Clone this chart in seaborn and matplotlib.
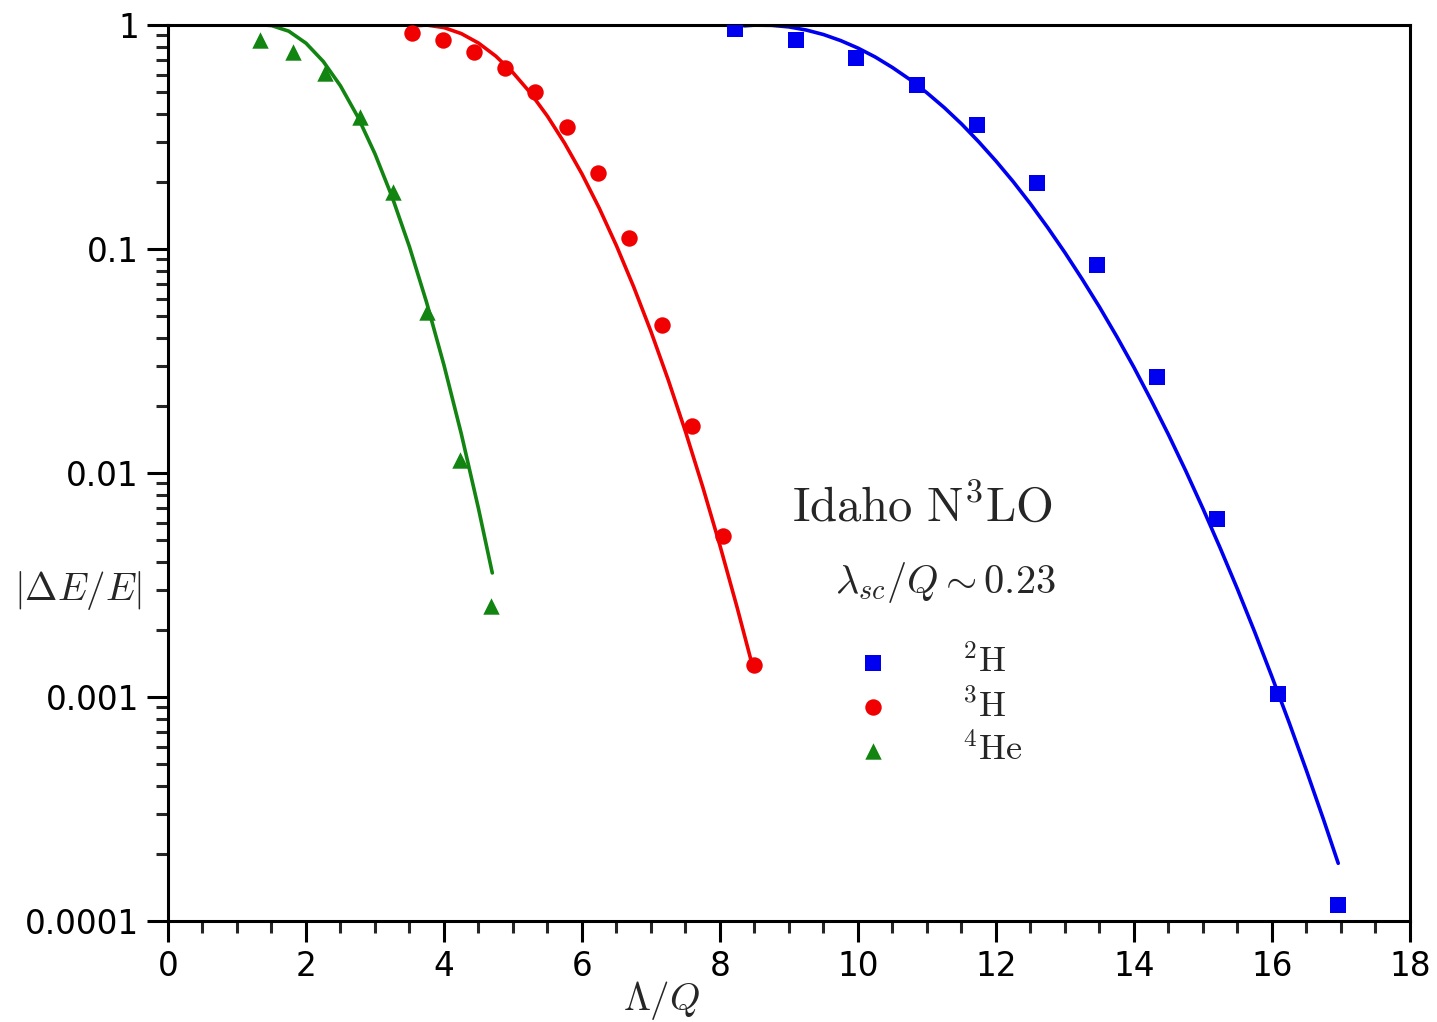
import numpy as np
import pandas as pd
import matplotlib
matplotlib.use('Agg')
import matplotlib.pyplot as plt
from matplotlib.ticker import LogLocator, MultipleLocator, NullFormatter, FixedLocator, FixedFormatter
import seaborn as sns

# puntos calculados (marcadores)
h2_x = [8.22, 9.10, 9.97, 10.86, 11.72, 12.59, 13.46, 14.33, 15.20, 16.09, 16.96]
h2_y = [0.96, 0.857, 0.71, 0.54, 0.358, 0.197, 0.0849, 0.0268, 0.00623, 0.00103, 0.000118]

h3_x = [3.54, 3.99, 4.43, 4.88, 5.32, 5.78, 6.23, 6.68, 7.16, 7.59, 8.04, 8.49]
h3_y = [0.92, 0.857, 0.758, 0.643, 0.502, 0.35, 0.218, 0.112, 0.0458, 0.0162, 0.00523, 0.00139]

he4_x = [1.33, 1.81, 2.28, 2.78, 3.26, 3.75, 4.23, 4.68]
he4_y = [0.857, 0.757, 0.61, 0.388, 0.18, 0.0523, 0.0114, 0.00255]

# curvas de ajuste
h2_curve_x = [8.35, 8.50, 8.75, 9.00, 9.25, 9.50, 9.75, 10.00, 10.25, 10.50, 10.75, 11.00,
              11.25, 11.50, 11.75, 12.00, 12.25, 12.50, 12.75, 13.00, 13.25, 13.50, 13.75,
              14.00, 14.25, 14.50, 14.75, 15.00, 15.25, 15.50, 15.75, 16.00, 16.25, 16.50,
              16.75, 16.96]
h2_curve_y = [0.992, 0.999, 0.997, 0.981, 0.950, 0.907, 0.852, 0.789, 0.720, 0.646, 0.572, 0.498,
              0.428, 0.362, 0.301, 0.247, 0.1998, 0.159, 0.1246, 0.0963, 0.0733, 0.0551, 0.0407,
              0.0296, 0.0211, 0.01483, 0.01023, 0.00693, 0.00462, 0.00303, 0.00195, 0.00123,
              0.000767, 0.000469, 0.000282, 0.000181]

h3_curve_x = [3.50, 3.75, 4.00, 4.25, 4.50, 4.75, 5.00, 5.25, 5.50, 5.75, 6.00, 6.25,
              6.50, 6.75, 7.00, 7.25, 7.50, 7.75, 8.00, 8.25, 8.46]
h3_curve_y = [0.989, 1.0, 0.974, 0.916, 0.831, 0.727, 0.613, 0.499, 0.3915, 0.2962, 0.2163, 0.1523,
              0.1034, 0.0677, 0.0428, 0.02605, 0.01531, 0.00867, 0.00474, 0.0025, 0.00142]

he4_curve_x = [1.40, 1.50, 1.75, 2.00, 2.25, 2.50, 2.75, 3.00, 3.25, 3.50, 3.75, 4.00,
               4.25, 4.50, 4.70]
he4_curve_y = [1.0, 0.995, 0.939, 0.830, 0.688, 0.535, 0.3897, 0.266, 0.1703, 0.1022, 0.0575,
               0.0303, 0.0150, 0.00694, 0.00358]

y_ticks = [1e-4, 1e-3, 1e-2, 1e-1, 1]
y_labels = ['0.0001', '0.001', '0.01', '0.1', '1']
x_ticks = [0, 2, 4, 6, 8, 10, 12, 14, 16, 18]

series = [
    (h2_x, h2_y, h2_curve_x, h2_curve_y, '#0000f0', 's', r'$^{2}\mathrm{H}$'),
    (h3_x, h3_y, h3_curve_x, h3_curve_y, '#f00000', 'o', r'$^{3}\mathrm{H}$'),
    (he4_x, he4_y, he4_curve_x, he4_curve_y, '#128412', '^', r'$^{4}\mathrm{He}$'),
]

sns.set_style('ticks')
plt.rcParams['font.family'] = ['DejaVu Sans']
plt.rcParams['mathtext.fontset'] = 'cm'

fig = plt.figure(figsize=(14.37, 10.22), dpi=100)
ax = fig.add_axes([0.1169, 0.0988, 0.8643, 0.8767])

for px, py, cx, cy, col, mk, lab in series:
    curva = pd.DataFrame({'x': cx, 'y': cy})
    puntos = pd.DataFrame({'x': px, 'y': py})
    sns.lineplot(data=curva, x='x', y='y', color=col, lw=2.6, estimator=None, sort=False, ax=ax)
    sns.scatterplot(data=puntos, x='x', y='y', color=col, marker=mk, s=140, linewidth=0,
                    label=lab, ax=ax, zorder=3)

ax.set_yscale('log')
ax.set_xlim(0, 18)
ax.set_ylim(1e-4, 1)
ax.set_xlabel('')
ax.set_ylabel('')

ax.yaxis.set_major_locator(FixedLocator(y_ticks))
ax.yaxis.set_major_formatter(FixedFormatter(y_labels))
ax.yaxis.set_minor_locator(LogLocator(base=10, subs=np.arange(2, 10)))
ax.yaxis.set_minor_formatter(NullFormatter())
ax.xaxis.set_major_locator(FixedLocator(x_ticks))
ax.xaxis.set_minor_locator(MultipleLocator(0.5))

for s in ax.spines.values():
    s.set_linewidth(2.2)
    s.set_color('black')
ax.tick_params(which='major', direction='out', length=15, width=2.2, labelsize=23.5, pad=6, colors='black')
ax.tick_params(which='minor', direction='out', length=8.5, width=2.2)

leg = ax.legend(loc='upper left', bbox_to_anchor=(0.553, 0.3086), frameon=False, fontsize=26,
                handlelength=1.0, handletextpad=1.97, labelspacing=0.25, borderpad=0, borderaxespad=0)

fig.text(0.5511, 0.5039, r'$\mathrm{Idaho\ N^3LO}$', fontsize=35, ha='left', va='center')
fig.text(0.5811, 0.4305, r'$\lambda_{sc}/Q \sim 0.23$', fontsize=29, ha='left', va='center')
fig.text(0.0097, 0.4227, r'$|\Delta E/E|$', fontsize=28, ha='left', va='center')
fig.text(0.4607, 0.0215, r'$\Lambda/Q$', fontsize=28, ha='center', va='center')

fig.savefig('out.png', dpi=100)
